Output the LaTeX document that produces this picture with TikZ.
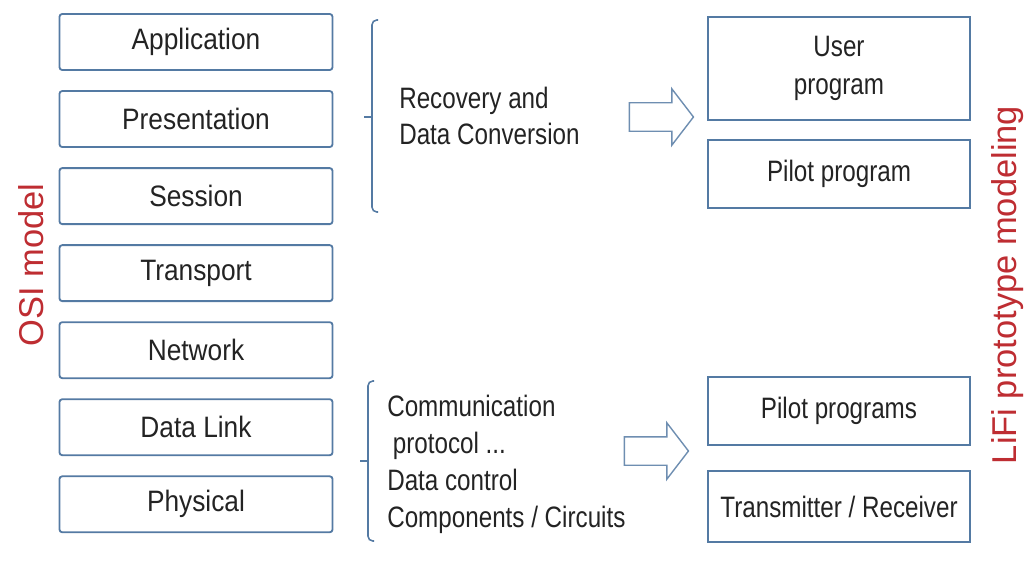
\documentclass[tikz,border=0pt]{standalone}
\usepackage{fontspec}
\setmainfont{Liberation Sans}[FakeStretch=0.82]
\newfontfamily\osifont{Liberation Sans}[FakeStretch=0.89]
\newfontfamily\sidefont{Liberation Sans}
\usetikzlibrary{positioning,shapes.arrows}
\definecolor{boxblue}{RGB}{84,122,163}
\definecolor{sidered}{RGB}{190,45,50}
\definecolor{inkgray}{RGB}{35,35,35}

\begin{document}
\begin{tikzpicture}[x=0.025cm, y=-0.025cm,
	osi/.style={rectangle, draw=boxblue, line width=1.3pt, rounded corners=2pt, minimum width=6.825cm, minimum height=1.4cm, text=inkgray, font=\osifont\fontsize{21}{25}\selectfont},
	lifi/.style={rectangle, draw=boxblue, line width=1.3pt, minimum width=6.55cm, minimum height=1.7cm, text=inkgray, align=center, font=\fontsize{21}{27}\selectfont},
	note/.style={anchor=west, align=left, text=inkgray, inner sep=0pt},
	hollow/.style={single arrow, draw=boxblue!85, line width=1pt, minimum height=1.6cm, minimum width=1.375cm, inner sep=0.3375cm, single arrow head extend=0.35cm, single arrow tip angle=105},
	side/.style={rotate=90, text=sidered, font=\sidefont\fontsize{24.5}{28}\selectfont},
	brace/.style={draw=boxblue, line width=1.1pt, rounded corners=0.12cm},
	node distance=0.48cm
]
\useasboundingbox (0,0) rectangle (1028,573);

\node [osi] (App) at (196,42) {Application};
\node [osi, below=of App] (Pres) {Presentation};
\node [osi, below=of Pres] (Sess) {Session};
\node [osi, below=of Sess] (Trans) {Transport};
\node [osi, below=of Trans] (Net) {Network};
\node [osi, below=of Net] (Link) {Data Link};
\node [osi, below=of Link] (Phys) {Physical};

\node [side] (OsiLabel) at (31,265) {OSI model};

\draw [brace] (378,20) -- (372,20) -- (372,212) -- (378,212);
\draw [brace] (372,117) -- (364,117);
\node [note, font=\fontsize{21}{25}\selectfont] (Recovery) at (399,116) {Recovery and\\Data Conversion};
\node [hollow] (TopArrow) at (656,117) {};

\draw [brace] (374,381) -- (368,381) -- (368,541) -- (374,541);
\draw [brace] (368,461) -- (360,461);
\node [note, font=\fontsize{21}{26.3}\selectfont] (Comm) at (387,464) {Communication\\\hspace{4pt}protocol ...\\Data control\\Components / Circuits};
\node [hollow] (LowArrow) at (651,451) {};

\node [lifi, minimum height=2.575cm] (User) at (839,68.5) {User\\program};
\node [lifi, below=0.45cm of User] (Pilot) {Pilot program};
\node [lifi] (Pilots) at (839,411) {Pilot programs};
\node [lifi, below=0.6cm of Pilots, minimum height=1.78cm] (TxRx) {Transmitter / Receiver};

\node [side] (LifiLabel) at (1008,285) {LiFi prototype modeling};

\end{tikzpicture}
\end{document}
